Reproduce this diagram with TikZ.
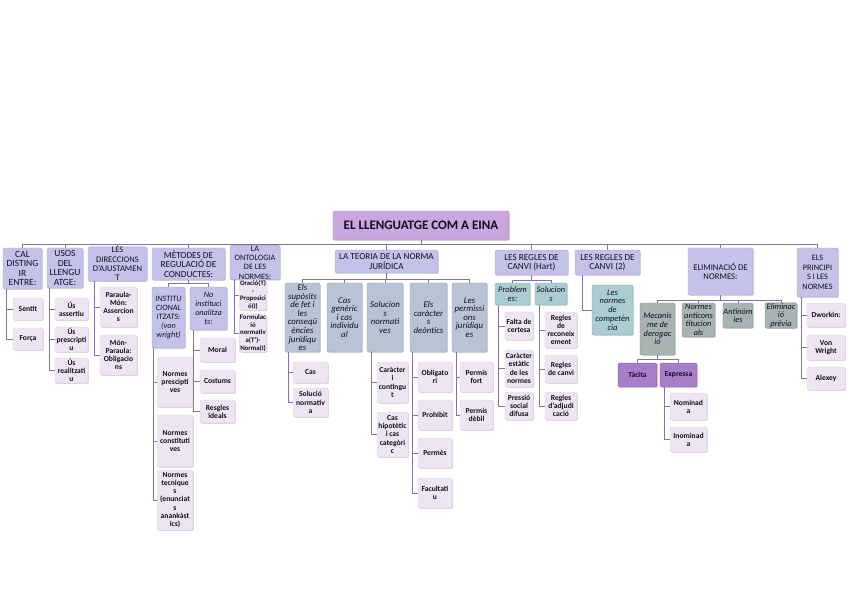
\documentclass[tikz,border=0pt]{standalone}
\usepackage{fontspec}
\setmainfont{Carlito}
\usetikzlibrary{shadows}
\definecolor{rootc}{HTML}{C9A6DD}
\definecolor{rootd}{HTML}{A07CC0}
\definecolor{lonec}{HTML}{C3C3E9}
\definecolor{loned}{HTML}{A6A4D6}
\definecolor{ltwoc}{HTML}{B8C4D6}
\definecolor{lhartc}{HTML}{AACDD2}
\definecolor{lelimc}{HTML}{A8B4B2}
\definecolor{leafc}{HTML}{EDE6F2}
\definecolor{leafd}{HTML}{D8D0E2}
\definecolor{purpc}{HTML}{A87EC8}
\definecolor{connc}{HTML}{8472A6}
\definecolor{txtc}{HTML}{101020}
\tikzset{
  box/.style={draw, rounded corners=1.5pt, align=center, inner sep=0.5pt, line width=0.4pt, text=txtc,
    drop shadow={shadow xshift=0.9pt, shadow yshift=-0.9pt, opacity=0.3}},
  rootbox/.style={box, fill=rootc, draw=rootd, font=\fontsize{13}{15}\selectfont\bfseries},
  lone/.style={box, fill=lonec, draw=loned, font=\fontsize{9.2}{9.5}\selectfont},
  lmet/.style={box, fill=lonec, draw=loned, font=\fontsize{8.2}{9}\selectfont\itshape},
  ltwo/.style={box, fill=ltwoc, draw=ltwoc!80!black, font=\fontsize{8.8}{8.6}\selectfont\itshape},
  lhart/.style={box, fill=lhartc, draw=lhartc!80!black, font=\fontsize{8.5}{8.8}\selectfont\itshape},
  lelim/.style={box, fill=lelimc, draw=lelimc!80!black, font=\fontsize{8.4}{8.6}\selectfont\itshape},
  leaf/.style={box, fill=leafc, draw=leafd, font=\fontsize{7.6}{8.2}\selectfont\bfseries},
  lpurp/.style={box, fill=purpc, draw=purpc!80!black, font=\fontsize{7.6}{8.2}\selectfont\bfseries},
  conn/.style={draw=connc, line width=0.8pt}
}
\newcommand{\mybox}[7]{\node[#1, minimum width=#5pt, minimum height=#6pt] (#2) at (#3,#4) {#7};}
\begin{document}
\begin{tikzpicture}[x=1pt,y=-1pt]
\useasboundingbox (0,0) rectangle (848,599);
\fill[white] (0,0) rectangle (848,599);
% root and level 1
\mybox{rootbox}{root}{421}{225.5}{176}{29}{EL LLENGUATGE COM A EINA}
\mybox{lone, font=\fontsize{9.5}{9.5}\selectfont}{cal}{22.5}{268.5}{39}{41}{CAL\\DISTING\\IR\\ENTRE:}
\mybox{lone, font=\fontsize{9.5}{9.5}\selectfont}{usos}{65}{268}{36}{40}{USOS\\DEL\\LLENGU\\ATGE:}
\mybox{lone, font=\fontsize{8.6}{9.2}\selectfont}{dir}{117.5}{264}{59}{28}{LES\\DIRECCIONS\\D'AJUSTAMEN\\T}
\mybox{lone}{met}{188.5}{264}{73}{32}{MÈTODES DE\\REGULACIÓ DE\\CONDUCTES:}
\mybox{lone, font=\fontsize{8.2}{9.3}\selectfont}{ont}{255}{262.5}{50}{25}{LA\\ONTOLOGIA\\DE LES\\NORMES:}
\mybox{lone}{teo}{386.5}{261.5}{103}{23}{LA TEORIA DE LA NORMA\\JURÍDICA}
\mybox{lone}{hart}{531.5}{262.5}{73}{25}{LES REGLES DE\\CANVI (Hart)}
\mybox{lone}{canvitwo}{607.5}{262.5}{65}{25}{LES REGLES DE\\CANVI (2)}
\mybox{lone, font=\fontsize{8.7}{9.5}\selectfont}{elim}{720.5}{271.5}{65}{47}{ELIMINACIÓ DE\\NORMES:}
\mybox{lone, font=\fontsize{8.3}{9.5}\selectfont}{princ}{817.5}{272.5}{41}{49}{ELS\\PRINCIPI\\S I LES\\NORMES}
% CAL
\mybox{leaf}{sentit}{28}{309}{30}{22}{Sentit}
\mybox{leaf}{forca}{28}{339}{30}{22}{Força}
% USOS
\mybox{leaf}{usa}{71.5}{309}{33}{22}{Ús\\assertiu}
\mybox{leaf}{usp}{71.5}{339.5}{33}{25}{Ús\\prescripti\\u}
\mybox{leaf}{usr}{71.5}{370.5}{33}{25}{Ús\\realitzati\\u}
% DIR
\mybox{leaf}{pm}{118.5}{307}{37}{40}{Paraula-\\Món:\\Assercion\\s}
\mybox{leaf}{mp}{118.5}{355}{37}{40}{Món-\\Paraula:\\Obligacio\\ns}
% MET
\mybox{lmet}{inst}{168.5}{317.5}{33}{61}{INSTITU\\CIONAL\\ITZATS:\\(von\\wright)}
\mybox{lmet}{noinst}{208.5}{308.5}{37}{43}{No\\instituci\\onalitza\\ts:}
\mybox{leaf}{np}{175}{382}{36}{50}{Normes\\prescipti\\ves}
\mybox{leaf}{nc}{175}{441}{36}{52}{Normes\\constituti\\ves}
\mybox{leaf}{nt}{175}{500}{36}{60}{Normes\\tecnique\\s\\(enunciat\\s\\anankàst\\ics)}
\mybox{leaf}{moral}{217.5}{350}{35}{24}{Moral}
\mybox{leaf}{costums}{217.5}{381.5}{35}{23}{Costums}
\mybox{leaf}{ideals}{217.5}{411.5}{35}{23}{Resgles\\ideals}
% ONT
\mybox{leaf, font=\fontsize{6.8}{7.8}\selectfont\bfseries}{orac}{253}{295}{26}{30}{Oració(T)\\-\\Proposici\\ó(I)}
\mybox{leaf, font=\fontsize{6.8}{7.8}\selectfont\bfseries}{form}{253}{333}{26}{34}{Formulac\\ió\\normativ\\a(T')-\\Norma(I)}
% TEO
\mybox{ltwo}{sup}{302.5}{317.5}{35}{69}{Els\\supòsits\\de fet i\\les\\conseqü\\ències\\jurídiqu\\es}
\mybox{ltwo}{casg}{344.5}{317.5}{35}{69}{Cas\\genèric\\i cas\\individu\\al}
\mybox{ltwo}{soln}{385}{317.5}{36}{69}{Solucion\\s\\normati\\ves}
\mybox{ltwo}{card}{428.5}{317.5}{37}{69}{Els\\caràcter\\s\\deòntics}
\mybox{ltwo}{perj}{469.5}{317.5}{35}{69}{Les\\permissi\\ons\\jurídiqu\\es}
\mybox{leaf}{cas}{310.5}{372.5}{35}{21}{Cas}
\mybox{leaf}{solnorm}{310.5}{402.5}{35}{29}{Solució\\normativ\\a}
\mybox{leaf}{carcont}{392.5}{382.5}{31}{41}{Caràcter\\i\\contingu\\t}
\mybox{leaf}{hip}{392.5}{434.5}{31}{45}{Cas\\hipotètic\\i cas\\categòri\\c}
\mybox{leaf}{oblig}{435}{377}{34}{30}{Obligato\\ri}
\mybox{leaf}{proh}{435}{415}{34}{30}{Prohibit}
\mybox{leaf}{perm}{435}{453}{34}{30}{Permès}
\mybox{leaf}{fac}{435}{493}{34}{30}{Facultati\\u}
\mybox{leaf}{fort}{476.5}{377}{33}{30}{Permís\\fort}
\mybox{leaf}{debil}{476.5}{415}{33}{30}{Permís\\dèbil}
% HART
\mybox{lhart}{prob}{512.5}{294}{35}{22}{Problem\\es:}
\mybox{lhart}{sols}{551}{294}{32}{22}{Solucion\\s}
\mybox{leaf}{falta}{519}{326}{28}{28}{Falta de\\certesa}
\mybox{leaf}{estat}{519}{368.5}{28}{37}{Caràcter\\estàtic\\de les\\normes}
\mybox{leaf}{press}{519}{406}{28}{28}{Pressió\\social\\difusa}
\mybox{leaf}{recon}{561}{330}{32}{36}{Regles\\de\\reconeix\\ement}
\mybox{leaf}{rcanvi}{561}{369}{32}{28}{Regles\\de canvi}
\mybox{leaf}{adj}{561}{406}{32}{28}{Regles\\d'adjudi\\cació}
% CANVI 2
\mybox{lhart}{comp}{612.5}{310}{41}{50}{Les\\normes\\de\\competèn\\cia}
% ELIM
\mybox{lelim}{meca}{657.5}{329}{35}{52}{Mecanis\\me de\\derogac\\ió}
\mybox{lelim}{anti}{698.5}{320}{33}{34}{Normes\\anticons\\titucion\\als}
\mybox{lelim}{antin}{738}{315.5}{30}{25}{Antinòm\\ies}
\mybox{lelim}{prev}{781}{315.5}{32}{25}{Eliminac\\ió\\prèvia}
\mybox{lpurp}{tacita}{637.5}{375}{39}{24}{Tàcita}
\mybox{lpurp}{expr}{678.5}{375}{37}{24}{Expressa}
\mybox{leaf}{nom}{688.5}{406.5}{37}{27}{Nominad\\a}
\mybox{leaf}{inom}{688.5}{439.5}{37}{25}{Inominad\\a}
% PRINC
\mybox{leaf}{dwor}{826}{315}{38}{24}{Dworkin:}
\mybox{leaf}{vonw}{826}{347.5}{38}{25}{Von\\Wright}
\mybox{leaf}{alex}{826}{378.5}{38}{23}{Alexey}
% connectors
\coordinate (topbus) at (421,244);
\draw[conn] (cal.north |- topbus) -- (princ.north |- topbus);
\draw[conn] (root.south) -- (root.south |- topbus);
\foreach \n in {cal,usos,dir,met,ont,teo,hart,canvitwo,elim,princ} \draw[conn] (\n.north) -- (\n.north |- topbus);
\draw[conn] ([xshift=4pt]cal.south west) |- (sentit.west);
\draw[conn] ([xshift=4pt]cal.south west) |- (forca.west);
\draw[conn] ([xshift=3pt]usos.south west) |- (usa.west);
\draw[conn] ([xshift=3pt]usos.south west) |- (usp.west);
\draw[conn] ([xshift=3pt]usos.south west) |- (usr.west);
\draw[conn] ([xshift=7pt]dir.south west) |- (pm.west);
\draw[conn] ([xshift=7pt]dir.south west) |- (mp.west);
\coordinate (metbus) at (0,283);
\draw[conn] (met.south) -- (met.south |- metbus);
\draw[conn] (inst.north) |- (metbus -| noinst.north) -- (noinst.north);
\draw[conn] ([xshift=2pt]inst.south west) |- (np.west);
\draw[conn] ([xshift=2pt]inst.south west) |- (nc.west);
\draw[conn] ([xshift=2pt]inst.south west) |- (nt.west);
\draw[conn] ([xshift=4pt]noinst.south west) |- (moral.west);
\draw[conn] ([xshift=4pt]noinst.south west) |- (costums.west);
\draw[conn] ([xshift=4pt]noinst.south west) |- (ideals.west);
\draw[conn] ([xshift=5pt]ont.south west) |- (orac.west);
\draw[conn] ([xshift=5pt]ont.south west) |- (form.west);
\coordinate (teobus) at (0,279);
\draw[conn] (teo.south) -- (teo.south |- teobus);
\draw[conn] (sup.north) |- (teobus -| perj.north) -- (perj.north);
\foreach \n in {casg,soln,card} \draw[conn] (\n.north) -- (\n.north |- teobus);
\draw[conn] ([xshift=4pt]sup.south west) |- (cas.west);
\draw[conn] ([xshift=4pt]sup.south west) |- (solnorm.west);
\draw[conn] ([xshift=5pt]soln.south west) |- (carcont.west);
\draw[conn] ([xshift=5pt]soln.south west) |- (hip.west);
\draw[conn] ([xshift=3pt]card.south west) |- (oblig.west);
\draw[conn] ([xshift=3pt]card.south west) |- (proh.west);
\draw[conn] ([xshift=3pt]card.south west) |- (perm.west);
\draw[conn] ([xshift=3pt]card.south west) |- (fac.west);
\draw[conn] ([xshift=5pt]perj.south west) |- (fort.west);
\draw[conn] ([xshift=5pt]perj.south west) |- (debil.west);
\coordinate (hartbus) at (0,280);
\draw[conn] (hart.south) -- (hart.south |- hartbus);
\draw[conn] (prob.north) |- (hartbus -| sols.north) -- (sols.north);
\draw[conn] ([xshift=4pt]prob.south west) |- (falta.west);
\draw[conn] ([xshift=4pt]prob.south west) |- (estat.west);
\draw[conn] ([xshift=4pt]prob.south west) |- (press.west);
\draw[conn] ([xshift=5pt]sols.south west) |- (recon.west);
\draw[conn] ([xshift=5pt]sols.south west) |- (rcanvi.west);
\draw[conn] ([xshift=5pt]sols.south west) |- (adj.west);
\draw[conn] ([xshift=8pt]canvitwo.south west) |- (comp.west);
\coordinate (elimbus) at (0,300);
\draw[conn] (elim.south) -- (elim.south |- elimbus);
\draw[conn] (meca.north) |- (elimbus -| prev.north) -- (prev.north);
\foreach \n in {anti,antin} \draw[conn] (\n.north) -- (\n.north |- elimbus);
\coordinate (mecabus) at (0,359);
\draw[conn] (meca.south) -- (meca.south |- mecabus);
\draw[conn] (tacita.north) |- (mecabus -| expr.north) -- (expr.north);
\draw[conn] ([xshift=5pt]expr.south west) |- (nom.west);
\draw[conn] ([xshift=5pt]expr.south west) |- (inom.west);
\draw[conn] ([xshift=5pt]princ.south west) |- (dwor.west);
\draw[conn] ([xshift=5pt]princ.south west) |- (vonw.west);
\draw[conn] ([xshift=5pt]princ.south west) |- (alex.west);
\end{tikzpicture}
\end{document}
